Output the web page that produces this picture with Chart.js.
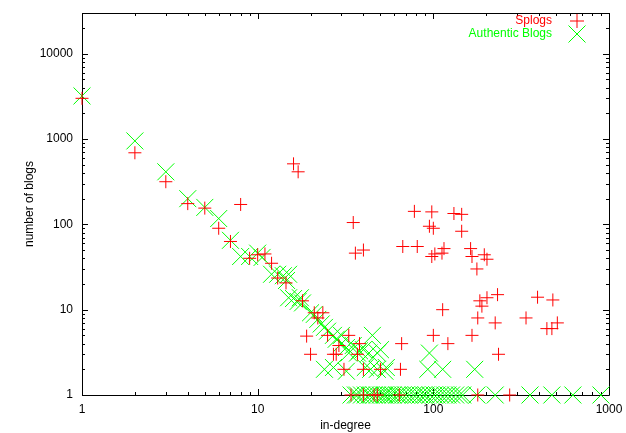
<!DOCTYPE html>
<html>
<head>
<meta charset="utf-8">
<script src="https://cdn.jsdelivr.net/npm/chart.js@4"></script>
<style>
  html, body { margin: 0; padding: 0; background: #fff; }
</style>
</head>
<body>
<canvas id="chart" width="626" height="433"></canvas>
<script>
  // values (log-log scatter)
  var splogX = [1, 2, 3, 4, 5, 6, 7, 8, 9, 10, 11, 12, 13, 14.5, 16, 17, 18, 21, 22, 23.5,
    19, 20, 25, 27, 28, 29, 33, 38, 37, 31, 40, 50, 65, 66,
    35, 36, 40, 67, 78, 81, 95, 98, 98, 100, 102, 112, 115, 131, 145, 145, 163, 166, 177,
    195, 202, 113, 184, 202, 189, 232, 179, 225, 100, 121, 166, 235, 392, 479, 337, 443, 473, 508,
    34, 40, 46, 48, 64, 179, 272];
  var splogY = [3000, 690, 316, 175, 155, 90, 63, 171, 40, 44, 45, 35, 23.5, 20.6, 512, 413, 12.7, 9.2, 8, 9.2,
    4.9, 3, 5, 3, 3, 3.8, 5, 4, 3, 2, 2, 2, 2, 4,
    105, 46, 50, 55, 142, 55, 95, 140, 42, 90, 45, 46, 52, 134, 131, 83, 52, 42, 30,
    44, 39, 10, 12.7, 13.8, 11, 15, 8, 7, 5, 4, 5, 3, 14, 13, 8, 6, 6, 7,
    1, 1, 1, 1, 1, 1, 1];

  var authX = [1, 2, 3, 4, 5, 6, 7, 8, 9, 10, 10.6, 12, 13, 14, 15, 14.6, 15, 16, 17, 17.5, 18,
    20, 21, 22, 23, 24, 25, 27, 30, 45, 28, 30, 32, 35, 38, 33, 37, 40, 43, 48, 50,
    24, 27, 32, 41, 44, 48, 54, 53, 95, 93, 113, 172,
    34, 36, 37, 39, 41, 43, 44, 46, 48, 50, 52, 53, 55, 57, 59, 62, 64, 67, 70, 73, 77, 80,
    84, 88, 91, 96, 101, 105, 110, 116, 121, 127, 134, 141, 147, 177, 225, 355, 473, 623, 900];
  var authY = [3200, 950, 413, 200, 158, 117, 65, 42, 42, 46, 41, 26, 26, 25, 26, 22, 13.8, 13.5, 12.5, 13.8, 12,
    9.2, 8.8, 7.7, 6.8, 6.2, 5.6, 5, 5, 5, 4.5, 4, 3.6, 3.8, 3.3, 3.1, 3.1, 3.4, 3.1, 3.1, 3.4,
    2, 2.1, 1.9, 2.1, 2, 2, 2.1, 1.9, 3.1, 2, 2, 2,
    1, 1, 1, 1, 1, 1, 1, 1, 1, 1, 1, 1, 1, 1, 1, 1, 1, 1, 1, 1, 1, 1,
    1, 1, 1, 1, 1, 1, 1, 1, 1, 1, 1, 1, 1, 1, 1, 1, 1, 1, 1];

  var xTicks = [1, 10, 100, 1000];
  var yTicks = [1, 10, 100, 1000, 10000];
  var xRange = [1, 1000];
  var yRange = [1, 30000];

  var labelFont = { family: "'Liberation Sans', Arial, sans-serif", size: 12 };

  function toPoints(xs, ys) {
    var pts = [];
    for (var i = 0; i < xs.length; i++) {
      pts.push({ x: xs[i], y: ys[i] });
    }
    return pts;
  }

  // gnuplot-like frame with inward major/minor ticks
  var framePlugin = {
    id: "frame",
    beforeDatasetsDraw: function (chart) {
      var ctx = chart.ctx;
      var a = chart.chartArea;
      var xs = chart.scales.x, ys = chart.scales.y;
      ctx.save();
      ctx.strokeStyle = "#000";
      ctx.lineWidth = 1;
      ctx.beginPath();
      ctx.rect(Math.round(a.left) + 0.5, Math.round(a.top) + 0.5,
        Math.round(a.right - a.left), Math.round(a.bottom - a.top));
      ctx.stroke();

      ctx.beginPath();
      for (var d = 1; d <= xRange[1]; d *= 10) {
        for (var m = 1; m < 10; m++) {
          var v = d * m;
          if (v < xRange[0] || v > xRange[1]) continue;
          var len = m === 1 ? 6 : 3;
          var px = Math.round(xs.getPixelForValue(v)) + 0.5;
          ctx.moveTo(px, a.bottom); ctx.lineTo(px, a.bottom - len);
          ctx.moveTo(px, a.top); ctx.lineTo(px, a.top + len);
        }
      }
      for (var e = 1; e <= yRange[1]; e *= 10) {
        for (var n = 1; n < 10; n++) {
          var w = e * n;
          if (w < yRange[0] || w >= yRange[1]) continue;
          var l2 = n === 1 ? 6 : 3;
          var py = Math.round(ys.getPixelForValue(w)) + 0.5;
          ctx.moveTo(a.left, py); ctx.lineTo(a.left + l2, py);
          ctx.moveTo(a.right, py); ctx.lineTo(a.right - l2, py);
        }
      }
      ctx.stroke();
      ctx.restore();
    },
    afterDraw: function (chart) {
      // key in the top right corner
      var ctx = chart.ctx;
      var sets = chart.data.datasets;
      var tx = 552, mx = 577;
      var rows = [21, 34];
      ctx.save();
      ctx.font = labelFont.size + "px " + labelFont.family;
      ctx.textAlign = "right";
      ctx.textBaseline = "middle";
      ctx.lineWidth = 1;
      for (var i = 0; i < sets.length; i++) {
        ctx.fillStyle = sets[i].borderColor;
        ctx.fillText(sets[i].label, tx, rows[i]);
        ctx.strokeStyle = sets[i].borderColor;
        ctx.beginPath();
        if (sets[i].pointStyle === "cross") {
          ctx.moveTo(mx - 7, rows[i]); ctx.lineTo(mx + 7, rows[i]);
          ctx.moveTo(mx, rows[i] - 7); ctx.lineTo(mx, rows[i] + 7);
        } else {
          ctx.moveTo(mx - 8.5, rows[i] - 8.5); ctx.lineTo(mx + 8.5, rows[i] + 8.5);
          ctx.moveTo(mx + 8.5, rows[i] - 8.5); ctx.lineTo(mx - 8.5, rows[i] + 8.5);
        }
        ctx.stroke();
      }
      ctx.restore();
    }
  };

  var ctx = document.getElementById("chart").getContext("2d");
  var chart = new Chart(ctx, {
    type: "scatter",
    data: {
      datasets: [
        {
          label: "Splogs",
          data: toPoints(splogX, splogY),
          pointStyle: "cross",
          pointRadius: 6.5,
          borderColor: "#ff0000",
          backgroundColor: "#ff0000",
          pointBorderWidth: 1,
          clip: false
        },
        {
          label: "Authentic Blogs",
          data: toPoints(authX, authY),
          pointStyle: "crossRot",
          pointRadius: 12,
          borderColor: "#00ff00",
          backgroundColor: "#00ff00",
          pointBorderWidth: 1,
          clip: false
        }
      ]
    },
    options: {
      responsive: false,
      animation: false,
      devicePixelRatio: 1,
      layout: { padding: { top: 10, right: 17, left: 0, bottom: 0 } },
      plugins: {
        legend: { display: false },
        tooltip: { enabled: false }
      },
      scales: {
        x: {
          type: "logarithmic",
          min: xRange[0],
          max: xRange[1],
          afterBuildTicks: function (s) {
            s.ticks = xTicks.map(function (v) { return { value: v }; });
          },
          afterFit: function (s) {
            s.height = 38;
            s.paddingLeft = 0;
            s.paddingRight = 0;
          },
          grid: { display: false, drawTicks: false, tickLength: 0 },
          border: { display: false },
          ticks: {
            color: "#000",
            font: labelFont,
            padding: 7,
            maxRotation: 0,
            autoSkip: false,
            callback: function (v) { return String(v); }
          },
          title: {
            display: true,
            text: "in-degree",
            color: "#000",
            font: labelFont,
            padding: { top: 3, bottom: 0 }
          }
        },
        y: {
          type: "logarithmic",
          min: yRange[0],
          max: yRange[1],
          afterBuildTicks: function (s) {
            s.ticks = yTicks.map(function (v) { return { value: v }; });
          },
          afterFit: function (s) {
            s.width = 82;
            s.paddingTop = 0;
            s.paddingBottom = 0;
          },
          grid: { display: false, drawTicks: false, tickLength: 0 },
          border: { display: false },
          ticks: {
            color: "#000",
            font: labelFont,
            padding: 9,
            autoSkip: false,
            callback: function (v) { return String(v); }
          },
          title: {
            display: true,
            text: "number of blogs",
            color: "#000",
            font: labelFont,
            padding: { top: 22, bottom: 0 }
          }
        }
      }
    },
    plugins: [framePlugin]
  });
</script>
</body>
</html>
